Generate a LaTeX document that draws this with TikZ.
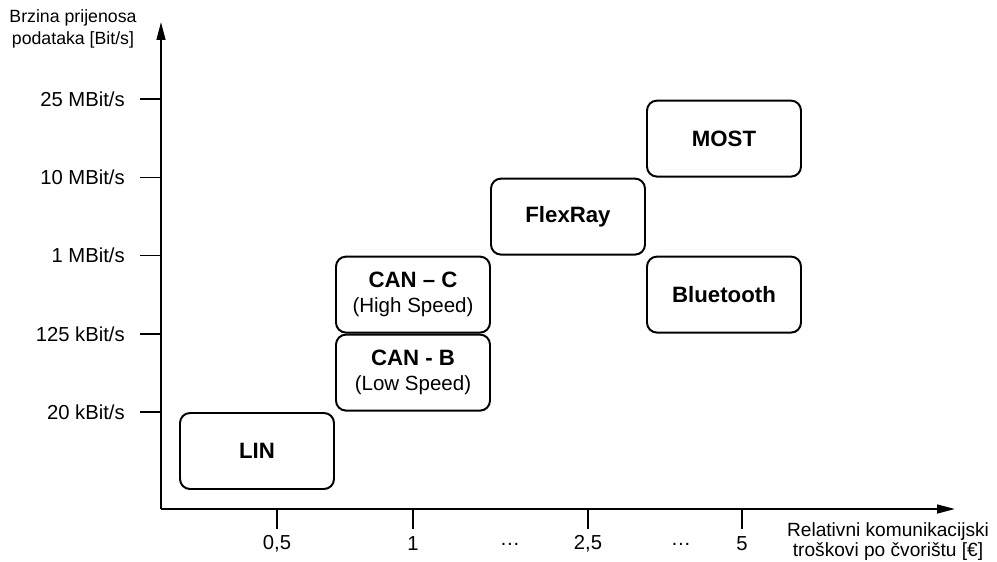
\documentclass[tikz,border=0pt]{standalone}
\usepackage{fontspec}
\setmainfont{Liberation Sans}
\usetikzlibrary{arrows.meta}

\tikzset{
    bus/.style={
      draw, line width=1.4pt, rounded corners=0.25cm,
      minimum width=3.85cm, minimum height=1.9cm,
      align=center, font=\fontsize{15.8}{18}\selectfont\bfseries
    }
  }
\tikzset{
    axis/.style={line width=1.4pt, -{Triangle[length=0.45cm,width=0.22cm]}},
    tick/.style={line width=1.1pt},
    ticklabel/.style={font=\fontsize{14.4}{17}\selectfont, inner sep=0pt},
    axislabel/.style={font=\fontsize{12.6}{15.6}\selectfont, align=center},
    costlabel/.style={font=\fontsize{13.6}{14.6}\selectfont, align=center}
  }
\newcommand{\speedtext}[1]{{\normalfont\fontsize{14.6}{18}\selectfont #1}}

\begin{document}
\begin{tikzpicture}
    \useasboundingbox (-4.025,-1.3) rectangle (20.9,12.725);

    \coordinate (o) at (0,0);
    \coordinate (ytop) at (0,12.175);
    \coordinate (xend) at (19.85,0);
    \draw[axis] (o) -- (ytop);
    \draw[axis] (o) -- (xend);

    \draw[tick] (0,2.425) -- (-0.525,2.425);
    \draw[tick] (0,4.38) -- (-0.525,4.38);
    \draw[tick] (0,6.335) -- (-0.525,6.335);
    \draw[tick] (0,8.29) -- (-0.525,8.29);
    \draw[tick] (0,10.245) -- (-0.525,10.245);

    \node[ticklabel, anchor=east] (y20k) at (-0.9,2.425) {20 kBit/s};
    \node[ticklabel, anchor=east] (y125k) at (-0.9,4.38) {125 kBit/s};
    \node[ticklabel, anchor=east] (y1M) at (-0.9,6.335) {1 MBit/s};
    \node[ticklabel, anchor=east] (y10M) at (-0.9,8.29) {10 MBit/s};
    \node[ticklabel, anchor=east] (y25M) at (-0.9,10.245) {25 MBit/s};

    \draw[tick] (2.9,0) -- (2.9,-0.5);
    \draw[tick] (6.3,0) -- (6.3,-0.5);
    \draw[tick] (10.675,0) -- (10.675,-0.5);
    \draw[tick] (14.525,0) -- (14.525,-0.5);

    \begin{scope}[shift={(0,-0.875)}]
      \node[ticklabel] (x05) at (2.9,0) {0,5};
      \node[ticklabel] (x1) at (6.3,0) {1};
      \node[ticklabel] (xdots1) at (8.725,0) {…};
      \node[ticklabel] (x25) at (10.675,0) {2,5};
      \node[ticklabel] (xdots2) at (13.0,0) {…};
      \node[ticklabel] (x5) at (14.525,0) {5};
    \end{scope}

    \node[bus] (lin) at (2.4,1.45) {LIN};
    \node[bus] (canb) at (6.3,3.41) {CAN - B\\\speedtext{(Low Speed)}};
    \node[bus] (canc) at (6.3,5.36) {CAN – C\\\speedtext{(High Speed)}};
    \node[bus] (flexray) at (10.175,7.31) {FlexRay};
    \node[bus] (most) at (14.075,9.26) {MOST};
    \node[bus] (bluetooth) at (14.075,5.36) {Bluetooth};

    \node[axislabel] (ytitle) at (-2.2,12.0) {Brzina prijenosa\\podataka [Bit/s]};
    \node[costlabel] (xtitle) at (18.175,-0.8125) {Relativni komunikacijski\\troškovi po čvorištu [€]};

  \end{tikzpicture}
\end{document}
